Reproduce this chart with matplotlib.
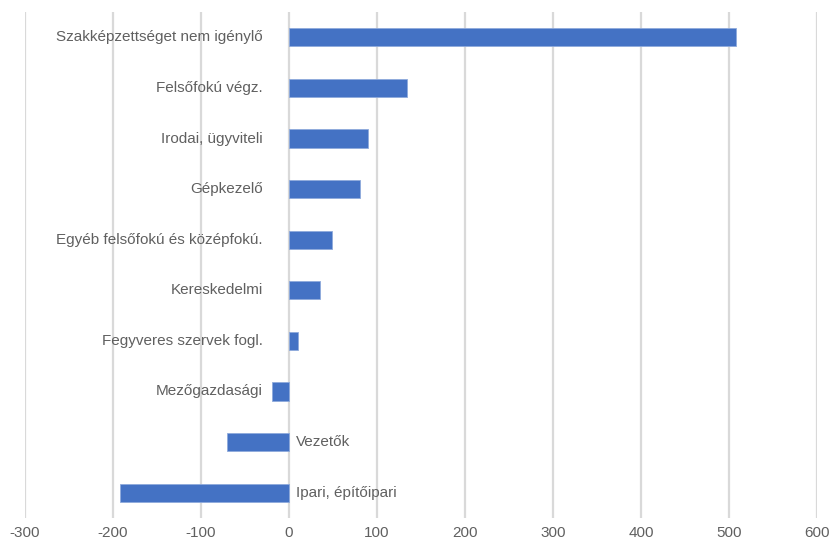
import matplotlib.pyplot as plt

categories = ['Szakképzettséget nem igénylő', 'Felsőfokú végz.', 'Irodai, ügyviteli',
              'Gépkezelő', 'Egyéb felsőfokú és középfokú.', 'Kereskedelmi',
              'Fegyveres szervek fogl.', 'Mezőgazdasági', 'Vezetők', 'Ipari, építőipari']
values = [508, 134, 90, 81, 49, 35, 10, -19, -70, -192]
ticks = list(range(-300, 700, 100))

plt.rcParams['font.family'] = ['Liberation Sans', 'DejaVu Sans']
text_color = '#606060'

fig = plt.figure(figsize=(8.32, 5.43), dpi=100)
ax = fig.add_axes([25 / 832, 25 / 543, 792 / 832, 506 / 543])

y = list(range(len(categories)))[::-1]
ax.barh(y, values, height=0.36, color='#4472C4', edgecolor='#8FAADC', linewidth=0.6, zorder=3)

ax.set_xlim(-300, 600)
ax.set_ylim(-0.5, len(categories) - 0.5)
ax.set_xticks(ticks)
ax.set_xticklabels([str(t) for t in ticks], color=text_color, fontsize=11)
ax.set_yticks([])
ax.tick_params(axis='x', length=0, pad=6)
ax.grid(axis='x', color='#D9D9D9', linewidth=1.6, zorder=0)
for s in ax.spines.values():
    s.set_visible(False)

# names go left of the axis unless a long negative bar is in the way
for yi, name, v in zip(y, categories, values):
    if v > -50:
        ax.annotate(name, (0, yi), xytext=(-26, 0), textcoords='offset pixels',
                    ha='right', va='center', color=text_color, fontsize=11)
    else:
        ax.annotate(name, (0, yi), xytext=(7, 0), textcoords='offset pixels',
                    ha='left', va='center', color=text_color, fontsize=11)

plt.savefig('out.png', dpi=100)
